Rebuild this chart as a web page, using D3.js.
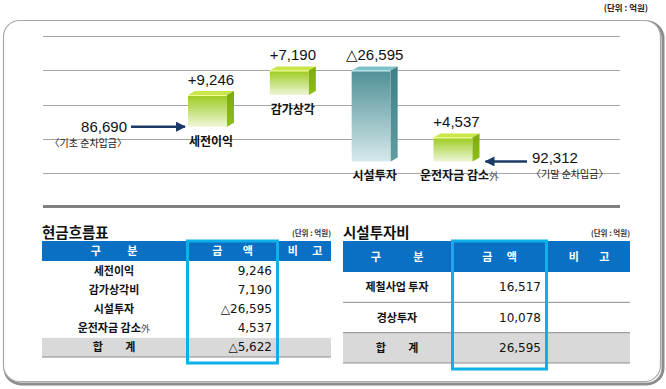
<!DOCTYPE html>
<meta charset="utf-8">
<html>

<head>
    <script src="https://d3js.org/d3.v7.min.js"></script>
    <style>
        body {
            margin: 0;
            background: #fff;
        }

        .kr {
            font-family: 'Noto Sans CJK KR', sans-serif;
        }

        .num {
            font-family: 'Liberation Sans', 'DejaVu Sans', sans-serif;
        }

        .tnum {
            font-family: 'DejaVu Sans', sans-serif;
        }
    </style>
</head>

<body>
    <svg width="666" height="389"></svg>

    <script>
        // waterfall data (억원)
        const flowCats = ["세전이익", "감가상각", "시설투자", "운전자금 감소"];
        const flowValues = [9246, 7190, -26595, 4537];
        const flowLabels = ["+9,246", "+7,190", "△26,595", "+4,537"];
        const openingLabel = "86,690";
        const openingNote = "〈기초 순차입금〉";
        const closingLabel = "92,312";
        const closingNote = "〈기말 순차입금〉";
        const unitText = "(단위 : 억원)";

        // 현금흐름표
        const cashHeaders = ["구 분", "금 액", "비 고"];
        const cashRows = ["세전이익", "감가상각비", "시설투자", "운전자금 감소", "합 계"];
        const cashValues = ["9,246", "7,190", "△26,595", "4,537", "△5,622"];

        // 시설투자비
        const capexHeaders = ["구 분", "금 액", "비 고"];
        const capexRows = ["제철사업 투자", "경상투자", "합 계"];
        const capexValues = ["16,517", "10,078", "26,595"];

        const svg = d3.select("svg");
        const defs = svg.append("defs");

        function vgrad(id, top, bottom) {
            const g = defs.append("linearGradient").attr("id", id)
                .attr("x1", 0).attr("y1", 0).attr("x2", 0).attr("y2", 1);
            g.append("stop").attr("offset", "0%").attr("stop-color", top);
            g.append("stop").attr("offset", "100%").attr("stop-color", bottom);
        }
        vgrad("gFront", "#9bcb1e", "#eef6d6");
        vgrad("gSide", "#7cab0c", "#8fbd1a");
        vgrad("tFront", "#4e9096", "#d6e9eb");
        vgrad("tSide", "#3f7f86", "#5f9ca2");

        // outer frame with shadow
        svg.append("rect").attr("x", 5).attr("y", 22).attr("width", 658).attr("height", 362)
            .attr("rx", 16).attr("fill", "none").attr("stroke", "#8c8c8c").attr("stroke-width", 3);
        svg.append("rect").attr("x", 3.5).attr("y", 20.5).attr("width", 657).attr("height", 361)
            .attr("rx", 16).attr("fill", "#fff").attr("stroke", "#a8a8a8").attr("stroke-width", 1.2);

        svg.append("text").attr("class", "kr").attr("x", 648).attr("y", 11)
            .attr("text-anchor", "end").attr("font-size", 8.5).attr("font-weight", "bold")
            .attr("fill", "#222").text(unitText);

        // gridlines
        const gridScale = d3.scaleLinear().domain([0, 4]).range([36, 173]);
        svg.append("g").selectAll("line").data(d3.range(5)).join("line")
            .attr("x1", 43).attr("x2", 620)
            .attr("y1", d => Math.round(gridScale(d)) + 0.5)
            .attr("y2", d => Math.round(gridScale(d)) + 0.5)
            .attr("stroke", "#a6a6a6").attr("stroke-width", 1);

        svg.append("line").attr("x1", 43).attr("x2", 620).attr("y1", 206.5).attr("y2", 206.5)
            .attr("stroke", "#808080").attr("stroke-width", 3);

        // waterfall
        const yScale = d3.scaleLinear().domain([-15000, 30000]).range([178, 24]);
        const xScale = d3.scalePoint().domain(flowCats).range([207.5, 453]);
        const boxW = 39, dx = 7, dy = 4, minH = 24;

        let cum = 0;
        const bars = flowValues.map((v, i) => {
            const start = cum;
            cum += v;
            const h = Math.max(Math.abs(yScale(start) - yScale(cum)), minH);
            const top = v > 0 ? yScale(start) - h : yScale(start);
            return { cat: flowCats[i], label: flowLabels[i], v, top, bottom: top + h };
        });

        const gBars = svg.append("g");
        bars.forEach((b, i) => {
            const x = xScale(b.cat) - boxW / 2;
            const neg = b.v < 0;
            const g = gBars.append("g");
            g.append("rect").attr("x", x).attr("y", b.top).attr("width", boxW)
                .attr("height", b.bottom - b.top).attr("fill", neg ? "url(#tFront)" : "url(#gFront)");
            g.append("polygon")
                .attr("points", [[x, b.top], [x + dx, b.top - dy], [x + boxW + dx, b.top - dy], [x + boxW, b.top]].join(" "))
                .attr("fill", neg ? "#7fc2c9" : "#c9e64a");
            g.append("line").attr("x1", x).attr("x2", x + boxW).attr("y1", b.top + 0.5).attr("y2", b.top + 0.5)
                .attr("stroke", neg ? "#c8f0f4" : "#f4ff9a").attr("stroke-width", 1.2);
            g.append("polygon")
                .attr("points", [[x + boxW, b.top], [x + boxW + dx, b.top - dy], [x + boxW + dx, b.bottom - dy], [x + boxW, b.bottom]].join(" "))
                .attr("fill", neg ? "url(#tSide)" : "url(#gSide)");

            const cx = xScale(b.cat) + dx / 2;
            svg.append("text").attr("class", "num").attr("x", cx).attr("y", b.top - dy - 6)
                .attr("text-anchor", "middle").attr("font-size", 15).attr("fill", "#111")
                .text(b.label);
            const t = svg.append("text").attr("class", "kr").attr("x", cx + (i === 3 ? 3 : 0))
                .attr("y", b.bottom + 19).attr("text-anchor", "middle")
                .attr("font-size", 12).attr("font-weight", "bold").attr("fill", "#111")
                .text(b.cat);
            if (i === 3) t.append("tspan").attr("font-weight", "normal").attr("font-size", 10)
                .attr("fill", "#555").text("外");
        });

        // arrows
        const arrowColor = "#1b3a66";
        defs.append("marker").attr("id", "ah").attr("viewBox", "0 0 10 10")
            .attr("refX", 9).attr("refY", 5).attr("markerWidth", 4).attr("markerHeight", 4)
            .attr("orient", "auto").append("path").attr("d", "M0,0L10,5L0,10z").attr("fill", arrowColor);

        const y0 = yScale(0);
        const x0 = xScale(flowCats[0]) - boxW / 2;
        svg.append("line").attr("x1", 131).attr("x2", x0 - 3).attr("y1", y0).attr("y2", y0)
            .attr("stroke", arrowColor).attr("stroke-width", 2.5).attr("marker-end", "url(#ah)");
        svg.append("text").attr("class", "num").attr("x", 127).attr("y", y0 + 5.5)
            .attr("text-anchor", "end").attr("font-size", 15).attr("fill", "#111").text(openingLabel);
        svg.append("text").attr("class", "kr").attr("x", 127).attr("y", y0 + 20)
            .attr("text-anchor", "end").attr("font-size", 10).attr("fill", "#222").text(openingNote);

        const last = bars[bars.length - 1];
        const xl = xScale(flowCats[3]) + boxW / 2 + dx;
        const yl = last.bottom;
        svg.append("line").attr("x1", 527).attr("x2", xl + 6).attr("y1", yl).attr("y2", yl)
            .attr("stroke", arrowColor).attr("stroke-width", 2.5).attr("marker-end", "url(#ah)");
        svg.append("text").attr("class", "num").attr("x", 532).attr("y", yl + 2)
            .attr("font-size", 15).attr("fill", "#111").text(closingLabel);
        svg.append("text").attr("class", "kr").attr("x", 531).attr("y", yl + 17)
            .attr("font-size", 10).attr("fill", "#222").text(closingNote);

        // tables
        function drawTable(o) {
            const g = svg.append("g");
            g.append("text").attr("class", "kr").attr("x", o.x0).attr("y", 238)
                .attr("font-size", 14.5).attr("font-weight", "bold").attr("fill", "#111").text(o.title);
            g.append("text").attr("class", "kr").attr("x", o.x3).attr("y", 236)
                .attr("text-anchor", "end").attr("font-size", 7.5).attr("font-weight", "bold")
                .attr("fill", "#333").text(unitText);

            const cols = [o.x0, o.x1, o.x2, o.x3];
            g.append("rect").attr("x", o.x0).attr("y", o.headTop).attr("width", o.x3 - o.x0)
                .attr("height", o.headBottom - o.headTop).attr("fill", "#0a70c4");
            o.headers.forEach((h, i) => {
                const ls = o.spacing[i];
                g.append("text").attr("class", "kr")
                    .attr("x", (cols[i] + cols[i + 1]) / 2 + ls / 2)
                    .attr("y", (o.headTop + o.headBottom) / 2 + 4)
                    .attr("text-anchor", "middle").attr("font-size", 11).attr("font-weight", "bold")
                    .attr("letter-spacing", ls).attr("fill", "#fff").text(h);
            });

            const rowY = d3.scaleBand().domain(d3.range(o.rows.length)).range([o.headBottom, o.bottom]);
            const lastRow = o.rows.length - 1;
            g.append("rect").attr("x", o.x0).attr("y", rowY(lastRow)).attr("width", o.x3 - o.x0)
                .attr("height", rowY.bandwidth()).attr("fill", "#d9d9d9");
            if (o.rowLines) {
                o.rows.forEach((r, i) => {
                    if (i === 0) return;
                    g.append("line").attr("x1", o.x0).attr("x2", o.x3)
                        .attr("y1", rowY(i)).attr("y2", rowY(i)).attr("stroke", "#8c8c8c").attr("stroke-width", 1);
                });
            }
            g.append("line").attr("x1", o.x0).attr("x2", o.x3).attr("y1", o.bottom).attr("y2", o.bottom)
                .attr("stroke", "#8c8c8c").attr("stroke-width", 1);

            o.rows.forEach((r, i) => {
                const cy = rowY(i) + rowY.bandwidth() / 2 + 4;
                const isTotal = i === lastRow;
                const t = g.append("text").attr("class", "kr")
                    .attr("x", (o.x0 + o.x1) / 2 + (isTotal ? 5 : 0)).attr("y", cy)
                    .attr("text-anchor", "middle").attr("font-size", 11).attr("font-weight", "bold")
                    .attr("letter-spacing", isTotal ? 10 : 0).attr("fill", "#111").text(r);
                if (o.suffix && o.suffix[i]) t.append("tspan").attr("font-weight", "normal")
                    .attr("font-size", 9.5).attr("fill", "#555").attr("letter-spacing", 0).text(o.suffix[i]);
                g.append("text").attr("class", "tnum").attr("x", o.x2 - 7).attr("y", cy)
                    .attr("text-anchor", "end").attr("font-size", 12).attr("fill", "#111").text(o.values[i]);
            });

            g.append("rect").attr("x", o.x1 + 1.5).attr("y", o.headTop)
                .attr("width", o.x2 - o.x1 - 3).attr("height", o.bottom + 6 - o.headTop)
                .attr("fill", "none").attr("stroke", "#0fb0ea").attr("stroke-width", 3);
        }

        drawTable({
            title: "현금흐름표", x0: 42, x1: 186, x2: 279, x3: 331,
            headTop: 241, headBottom: 261, bottom: 357, rowLines: false,
            headers: cashHeaders, spacing: [12, 9, 6], rows: cashRows, values: cashValues,
            suffix: [null, null, null, "外", null]
        });
        drawTable({
            title: "시설투자비", x0: 343, x1: 451, x2: 548, x3: 630,
            headTop: 241, headBottom: 272, bottom: 363, rowLines: true,
            headers: capexHeaders, spacing: [15, 6, 9], rows: capexRows, values: capexValues
        });
    </script>
</body>

</html>
